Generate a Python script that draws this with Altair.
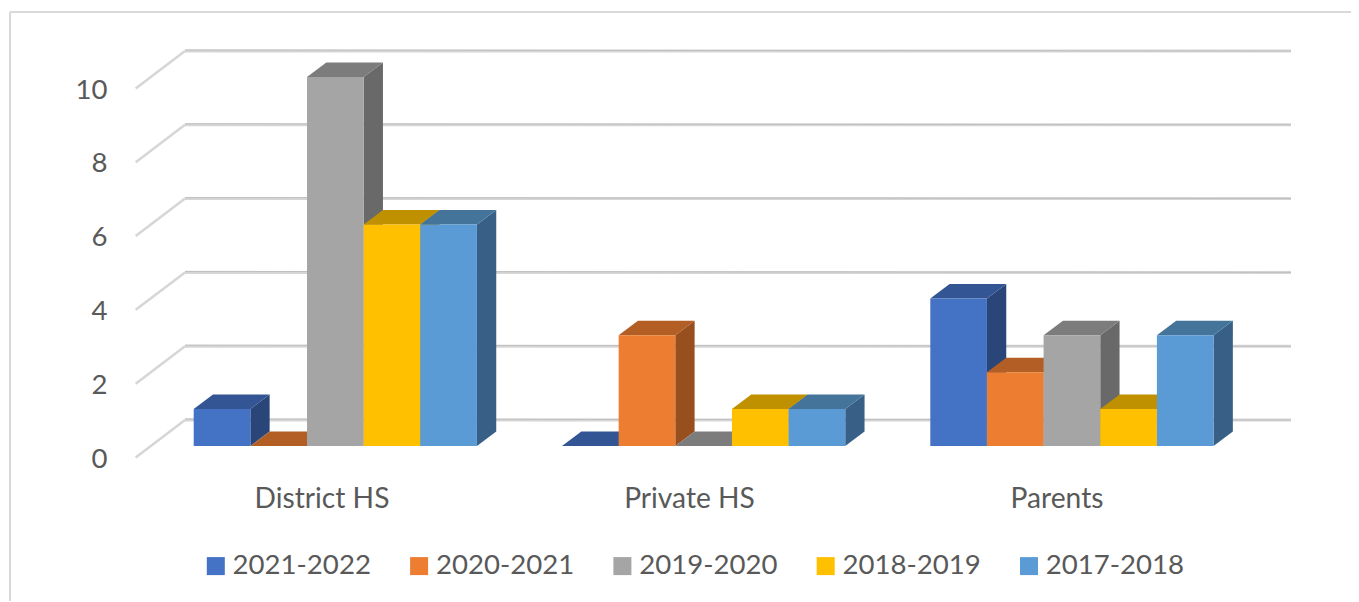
import json
import altair as alt
import pandas as pd

categories = ["District HS", "Private HS", "Parents"]
series = ["2021-2022", "2020-2021", "2019-2020", "2018-2019", "2017-2018"]
values = {
    "2021-2022": [1, 0, 4],
    "2020-2021": [0, 3, 2],
    "2019-2020": [10, 0, 3],
    "2018-2019": [6, 1, 1],
    "2017-2018": [6, 1, 3],
}
front_colors = ["#4472C4", "#ED7D31", "#A5A5A5", "#FFC000", "#5B9BD5"]
top_colors = ["#335593", "#B25E25", "#7C7C7C", "#BF9000", "#447499"]
side_colors = ["#2A4679", "#964F1D", "#696969", "#9C7600", "#386087"]
y_ticks = [0, 2, 4, 6, 8, 10]

FONT = "Lato"
TEXT = "#595959"
FS = 27.6

# layout (page px), converted into data units for the scales
STEP = 368.3
X0 = 193.7
BAR = 56.65
DEPTH_X = 19.3
Y0 = 446.0
UNIT = 36.9
DEPTH_Y = 14.5
LEFT, TOP, RIGHT, BOTTOM = 10, 12, 1351, 601


def ux(px):
    return (px - X0) / STEP


def uy(py):
    return (Y0 - py) / UNIT


w = BAR / STEP
dx = DEPTH_X / STEP
dy = DEPTH_Y / UNIT

fronts, sides, tops = [], [], []
for c, cat in enumerate(categories):
    for s, name in enumerate(series):
        v = values[name][c]
        x1 = c + s * w
        x2 = x1 + w
        bar = f"{c}-{s}"
        fronts.append(dict(series=name, x=x1, x2=x2, y=0, y2=v))
        sides.append(dict(series=name, bar=bar, x=x2, y=0, y2=v))
        sides.append(dict(series=name, bar=bar, x=x2 + dx, y=dy, y2=v + dy))
        tops.append(dict(series=name, bar=bar, y=v, x=x1, x2=x2))
        tops.append(dict(series=name, bar=bar, y=v + dy, x=x1 + dx, x2=x2 + dx))

xs = alt.Scale(domain=[ux(LEFT), ux(RIGHT)], nice=False, zero=False)
ys = alt.Scale(domain=[uy(BOTTOM), uy(TOP)], nice=False, zero=False)
X = alt.X("x:Q", scale=xs, title=None)
Y = alt.Y("y:Q", scale=ys, title=None)

# frame
frame = pd.DataFrame([
    dict(x=ux(LEFT), x2=ux(RIGHT), y=uy(TOP), y2=uy(TOP)),
    dict(x=ux(LEFT), x2=ux(LEFT), y=uy(TOP), y2=uy(BOTTOM)),
])
frame_l = alt.Chart(frame).mark_rule(color="#d9d9d9", strokeWidth=2).encode(X, Y, x2="x2:Q", y2="y2:Q")

# axes
labels_expr = json.dumps(categories) + "[round(datum.value)]"
cat_centers = [ux(321.5 + i * 367.5) for i in range(len(categories))]
axes_src = pd.DataFrame({"x": [ux(LEFT)], "y": [uy(TOP)]})
axes = alt.Chart(axes_src).mark_point(opacity=0).encode(
    x=alt.X("x:Q", scale=xs, title=None, axis=alt.Axis(
        values=cat_centers, labelExpr=labels_expr, grid=False, domain=False, ticks=False,
        labelFont=FONT, labelFontSize=28.2, labelColor=TEXT, labelPadding=0,
        labelBaseline="top", offset=-(BOTTOM - 485))),
    y=alt.Y("y:Q", scale=ys, title=None, axis=alt.Axis(
        values=y_ticks, grid=False, domain=False, ticks=False, format="d",
        labelFont=FONT, labelFontSize=FS, labelColor=TEXT, labelPadding=0,
        labelOffset=13, offset=-(107 - LEFT))),
)

# gridlines: floor-to-wall diagonal, then back wall
diag = pd.DataFrame([
    dict(x=ux(135.7), x2=ux(185), y=v - 0.31, y2=v + 0.705) for v in y_ticks
])
back = pd.DataFrame([
    dict(x=ux(185), x2=ux(1291), y=v + 0.705, y2=v + 0.705) for v in y_ticks
])
GRID = "#d6d6d6"
g1 = alt.Chart(diag).mark_rule(color=GRID, strokeWidth=2.5).encode(X, Y, x2="x2:Q", y2="y2:Q")
g2 = alt.Chart(back).mark_rule(color=GRID, strokeWidth=3).encode(X, Y, x2="x2:Q", y2="y2:Q")
g3 = alt.Chart(back).mark_rule(color="#bfbfbf", strokeWidth=1, yOffset=-1).encode(X, Y, x2="x2:Q", y2="y2:Q")

side_l = alt.Chart(pd.DataFrame(sides)).mark_area(orient="vertical", interpolate="linear").encode(
    X, Y, y2="y2:Q", detail="bar:N",
    color=alt.Color("series:N", scale=alt.Scale(domain=series, range=side_colors), legend=None),
)
top_l = alt.Chart(pd.DataFrame(tops)).mark_area(orient="horizontal", interpolate="linear").encode(
    Y, X, x2="x2:Q", detail="bar:N",
    color=alt.Color("series:N", scale=alt.Scale(domain=series, range=top_colors), legend=None),
)
front_l = alt.Chart(pd.DataFrame(fronts)).mark_rect().encode(
    X, Y, x2="x2:Q", y2="y2:Q",
    color=alt.Color("series:N", scale=alt.Scale(domain=series, range=front_colors), legend=alt.Legend(
        title=None, orient="none", legendX=207 - LEFT - 5, legendY=552 - TOP, direction="horizontal",
        columns=5, symbolType="square", symbolSize=324, symbolStrokeWidth=0,
        labelFont=FONT, labelFontSize=FS, labelColor=TEXT, labelOffset=3, columnPadding=34.3,
    )),
)

chart = alt.layer(axes, frame_l, g1, g2, g3, side_l, top_l, front_l).resolve_scale(color="independent").properties(
    width=RIGHT - LEFT, height=BOTTOM - TOP,
    padding={"left": LEFT - 8, "top": TOP - 8, "right": 0, "bottom": 0},
    autosize=alt.AutoSizeParams(type="none"),
    background="#ffffff",
).configure_view(stroke=None)

chart.save("out.html", embed_options={"renderer": "svg", "actions": False})
